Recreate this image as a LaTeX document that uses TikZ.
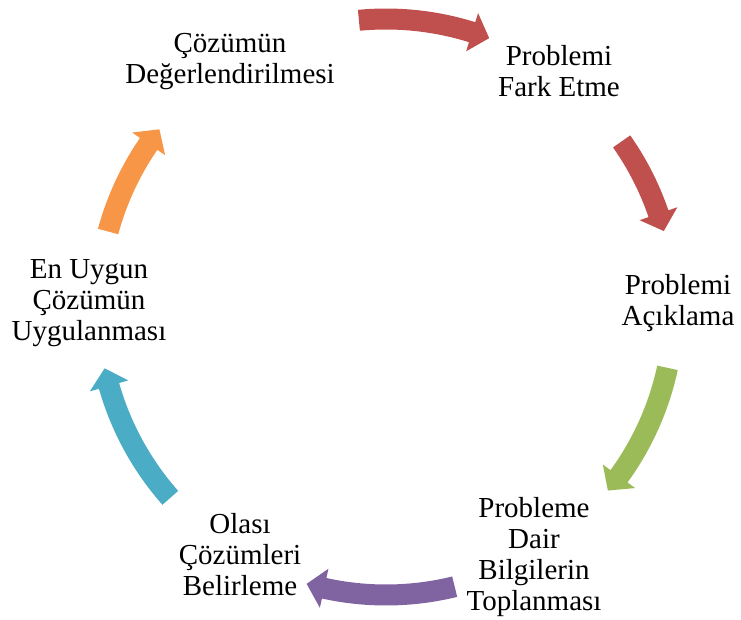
\documentclass[tikz,border=0pt]{standalone}
\usepackage{fontspec}
\setmainfont{Liberation Serif}
\definecolor{cred}{HTML}{C0504D}
\definecolor{cgreen}{HTML}{9BBB59}
\definecolor{cpurple}{HTML}{8064A2}
\definecolor{cteal}{HTML}{4BACC6}
\definecolor{corange}{HTML}{F79646}
\newcommand\cycarrow[3]{%
  \pgfmathsetmacro\hb{#3+3.6}%
  \fill[#1] (#2:298.5) arc[start angle=#2, end angle=\hb, radius=298.5]
    -- (\hb:308) -- (#3:288) -- (\hb:268) -- (\hb:277.5)
    arc[start angle=\hb, end angle=#2, radius=277.5] -- cycle;}
\begin{document}
\begin{tikzpicture}[x=1pt,y=1pt,
  lbl/.style={align=center,inner sep=0pt,font=\fontsize{29}{31}\selectfont}]
\useasboundingbox (0,0) rectangle (741,619);
\coordinate (c) at (386,312);
\node[lbl] (n1) at (230,557) {Çözümün\\Değerlendirilmesi};
\node[lbl] (n2) at (559,548) {Problemi\\Fark Etme};
\node[lbl] (n3) at (678,316) {Problemi\\Açıklama};
\node[lbl] (n4) at (534,62) {Probleme\\Dair\\Bilgilerin\\Toplanması};
\node[lbl] (n5) at (240,64) {Olası\\Çözümleri\\Belirleme};
\node[lbl] (n6) at (89,316) {En Uygun\\Çözümün\\Uygulanması};
\begin{scope}[shift={(c)}]
\cycarrow{cred}{95.4}{69}
\cycarrow{cred}{35.1}{15.3}
\cycarrow{cgreen}{-12.2}{-39.6}
\cycarrow{cpurple}{-76.2}{-106}
\cycarrow{cteal}{-138.5}{-167.7}
\cycarrow{corange}{164.8}{141.9}
\end{scope}
\end{tikzpicture}
\end{document}
